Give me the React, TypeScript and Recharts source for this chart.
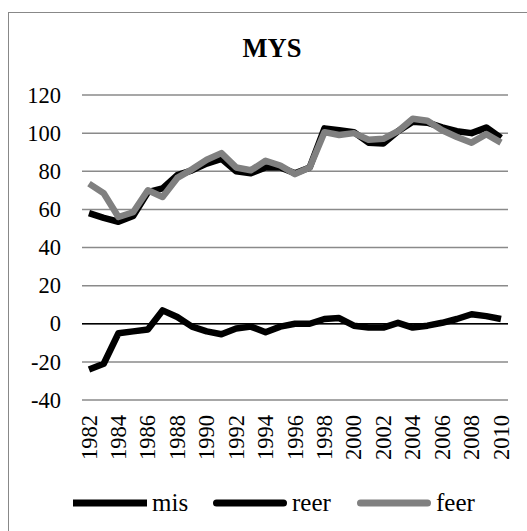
import { LineChart, Line, XAxis, YAxis, CartesianGrid, ReferenceLine } from 'recharts';

const years = [
  '1982', '1983', '1984', '1985', '1986', '1987', '1988', '1989', '1990', '1991',
  '1992', '1993', '1994', '1995', '1996', '1997', '1998', '1999', '2000', '2001',
  '2002', '2003', '2004', '2005', '2006', '2007', '2008', '2009', '2010',
];

const mis = [
  -24, -21, -5, -4, -3, 7, 3.5, -1.5, -4, -5.5,
  -2.5, -1.5, -4.5, -1.5, 0, 0, 2.5, 3, -1, -2,
  -2, 0.5, -2, -1, 0.5, 2.5, 5, 4, 2.5,
];

const reer = [
  58, 55.5, 53.5, 56.5, 69, 71, 78, 80.5, 84, 86.5,
  80, 79, 82, 82, 79, 82, 102.5, 101.5, 100.5, 95,
  94.5, 101, 106, 105.5, 103, 101, 100, 103, 97.5,
];

const feer = [
  73.5, 68.5, 56, 58.5, 70, 66.5, 76.5, 81, 86, 89.5,
  82, 80.5, 85.5, 83, 78.5, 82, 100.5, 99, 100, 96.5,
  97, 101, 107.5, 106.5, 101.5, 98, 95, 99.5, 95,
];

const yTicks = [-40, -20, 0, 20, 40, 60, 80, 100, 120];

const series = [
  { key: 'mis', color: '#000000', cap: 'butt' },
  { key: 'reer', color: '#000000', cap: 'round' },
  { key: 'feer', color: '#808080', cap: 'round' },
];

const data = years.map((year, i) => ({ year, mis: mis[i], reer: reer[i], feer: feer[i] }));

const FONT = "'Liberation Serif', serif";
const txt = { fontFamily: FONT };

const YearTick = ({ x, y, payload }: any) => (
  <text
    x={x}
    y={y + 15}
    transform={`rotate(-90 ${x} ${y + 15})`}
    textAnchor="end"
    dy="0.34em"
    style={txt}
    fontSize={22.5}
    fill="#000"
  >
    {payload.value}
  </text>
);

const YTick = ({ x, y, payload }: any) => (
  <text x={x} y={y} textAnchor="end" dy="0.34em" style={txt} fontSize={22.5} fill="#000">
    {payload.value}
  </text>
);

const W = 518;
const H = 518;

// legend spots
const legendX = [64, 204, 348];

export default function App() {
  return (
    <div
      style={{
        position: 'absolute',
        left: 8,
        top: 12,
        width: W,
        height: H,
        borderLeft: '1px solid #888',
        borderTop: '1px solid #888',
        overflow: 'hidden',
        background: '#fff',
        fontFamily: FONT,
      }}
    >
      <LineChart width={W} height={H} data={data} margin={{ top: 82, right: 19, left: 0, bottom: 0 }}>
        <CartesianGrid vertical={false} stroke="#8a8a8a" strokeWidth={1.5} />
        <XAxis
          dataKey="year"
          interval={1}
          tick={<YearTick />}
          tickLine={false}
          axisLine={false}
          tickSize={0}
          tickMargin={0}
          height={131}
          padding={{ left: 7, right: 7 }}
        />
        <YAxis
          domain={[-40, 120]}
          ticks={yTicks}
          width={73}
          axisLine={false}
          tickLine={false}
          tickSize={0}
          tickMargin={21}
          tick={<YTick />}
        />
        <ReferenceLine y={0} stroke="#000" strokeWidth={1.5} />
        {series.map((s) => (
          <Line
            key={s.key}
            dataKey={s.key}
            stroke={s.color}
            strokeWidth={6.5}
            strokeLinejoin="round"
            dot={false}
            activeDot={false}
            type="linear"
            isAnimationActive={false}
          />
        ))}
      </LineChart>
      <svg
        width={W}
        height={H}
        style={{ position: 'absolute', left: 0, top: 0, pointerEvents: 'none' }}
      >
        <text x={263} y={44} textAnchor="middle" style={txt} fontWeight="bold" fontSize={26.5} fill="#000">
          MYS
        </text>
        {series.map((s, i) => (
          <g key={s.key}>
            <line
              x1={legendX[i] + (s.cap === 'round' ? 3.5 : 0)}
              x2={legendX[i] + 74 - (s.cap === 'round' ? 3.5 : 0)}
              y1={490}
              y2={490}
              stroke={s.color}
              strokeWidth={7}
              strokeLinecap={s.cap as any}
            />
            <text x={legendX[i] + 79} y={498} style={txt} fontSize={25} fill="#000">
              {s.key}
            </text>
          </g>
        ))}
      </svg>
    </div>
  );
}
